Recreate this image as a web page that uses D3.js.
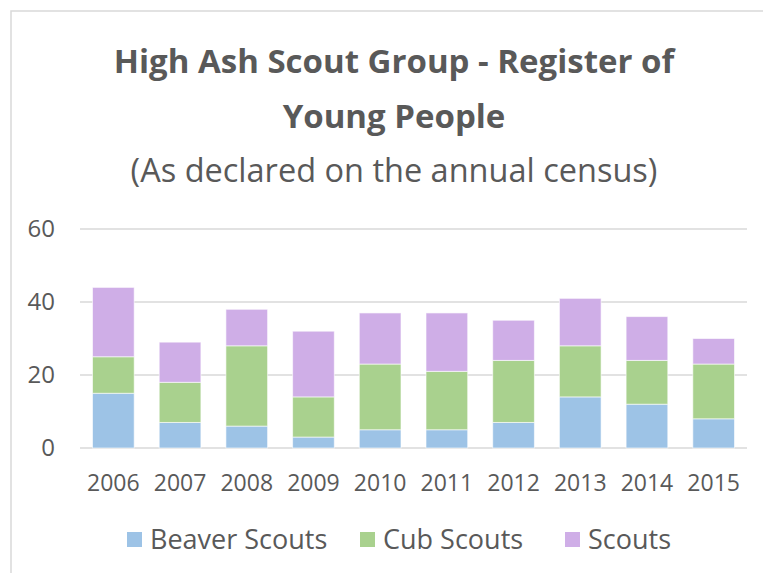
<!DOCTYPE html>
<html>
<head>
<meta charset="utf-8">
<script src="https://d3js.org/d3.v7.min.js"></script>
<style>
  body { margin: 0; background: #fff; }
  svg { font-family: "Open Sans", "Noto Sans", sans-serif; }
</style>
</head>
<body>
<script>
// data
var years = ["2006", "2007", "2008", "2009", "2010", "2011", "2012", "2013", "2014", "2015"];
var beavers = [15, 7, 6, 3, 5, 5, 7, 14, 12, 8];
var cubs = [10, 11, 22, 11, 18, 16, 17, 14, 12, 15];
var scouts = [19, 11, 10, 18, 14, 16, 11, 13, 12, 7];
var seriesNames = ["Beaver Scouts", "Cub Scouts", "Scouts"];
var yTicks = [0, 20, 40, 60];

var colors = ["#9dc3e6", "#a9d18e", "#cfaee7"];
var textColor = "#595959";

var W = 763, H = 573;
var svg = d3.select("body").append("svg")
  .attr("width", W).attr("height", H);

// chart frame
svg.append("rect")
  .attr("x", 11).attr("y", 11)
  .attr("width", W).attr("height", H)
  .attr("fill", "none")
  .attr("stroke", "#d9d9d9")
  .attr("stroke-width", 1.5);

// titles
svg.append("text")
  .attr("x", 394).attr("y", 73)
  .attr("text-anchor", "middle")
  .attr("font-size", 33).attr("font-weight", "bold")
  .attr("fill", textColor)
  .text("High Ash Scout Group - Register of");
svg.append("text")
  .attr("x", 394).attr("y", 128)
  .attr("text-anchor", "middle")
  .attr("font-size", 33).attr("font-weight", "bold")
  .attr("fill", textColor)
  .text("Young People");
svg.append("text")
  .attr("x", 394).attr("y", 182)
  .attr("text-anchor", "middle")
  .attr("font-size", 32.5)
  .attr("fill", textColor)
  .text("(As declared on the annual census)");

var plot = {left: 80, right: 747, top: 229, bottom: 448};

var x = d3.scaleBand()
  .domain(years)
  .range([plot.left, plot.right])
  .paddingInner(0.375)
  .paddingOuter(0.1875);

var y = d3.scaleLinear()
  .domain([0, 60])
  .range([plot.bottom, plot.top]);

// gridlines
svg.append("g")
  .selectAll("line")
  .data(yTicks)
  .join("line")
  .attr("x1", plot.left).attr("x2", plot.right)
  .attr("y1", function(d) { return y(d); })
  .attr("y2", function(d) { return y(d); })
  .attr("stroke", "#d9d9d9")
  .attr("stroke-width", 1.5);

// y axis labels
var yAxis = svg.append("g")
  .attr("transform", "translate(" + plot.left + ",0)")
  .call(d3.axisLeft(y).tickValues(yTicks).tickSize(0).tickPadding(25));
yAxis.select(".domain").remove();
yAxis.selectAll("text")
  .attr("font-size", 24)
  .attr("font-family", "'Open Sans', 'Noto Sans', sans-serif")
  .attr("fill", textColor);

// x axis labels
var xAxis = svg.append("g")
  .attr("transform", "translate(0," + plot.bottom + ")")
  .call(d3.axisBottom(x).tickSize(0).tickPadding(27));
xAxis.select(".domain").remove();
xAxis.selectAll("text")
  .attr("font-size", 23)
  .attr("font-family", "'Open Sans', 'Noto Sans', sans-serif")
  .attr("fill", textColor);

// stacked bars
var rows = years.map(function(yr, i) {
  return {year: yr, b: beavers[i], c: cubs[i], s: scouts[i]};
});
var stack = d3.stack().keys(["b", "c", "s"]);
var layers = stack(rows);

svg.append("g")
  .selectAll("g")
  .data(layers)
  .join("g")
  .attr("fill", function(d, i) { return colors[i]; })
  .selectAll("rect")
  .data(function(d) { return d; })
  .join("rect")
  .attr("x", function(d) { return x(d.data.year); })
  .attr("width", x.bandwidth())
  .attr("y", function(d) { return y(d[1]); })
  .attr("height", function(d) { return y(d[0]) - y(d[1]); })
  .attr("stroke", "#ffffff")
  .attr("stroke-opacity", 0.6)
  .attr("stroke-width", 1);

// legend
var legendX = [127, 360, 565];
var legend = svg.append("g")
  .selectAll("g")
  .data(seriesNames)
  .join("g")
  .attr("transform", function(d, i) { return "translate(" + legendX[i] + ",532)"; });
legend.append("rect")
  .attr("width", 15).attr("height", 15)
  .attr("fill", function(d, i) { return colors[i]; });
legend.append("text")
  .attr("x", 23).attr("y", 17)
  .attr("font-size", 27)
  .attr("fill", textColor)
  .text(function(d) { return d; });
</script>
</body>
</html>
